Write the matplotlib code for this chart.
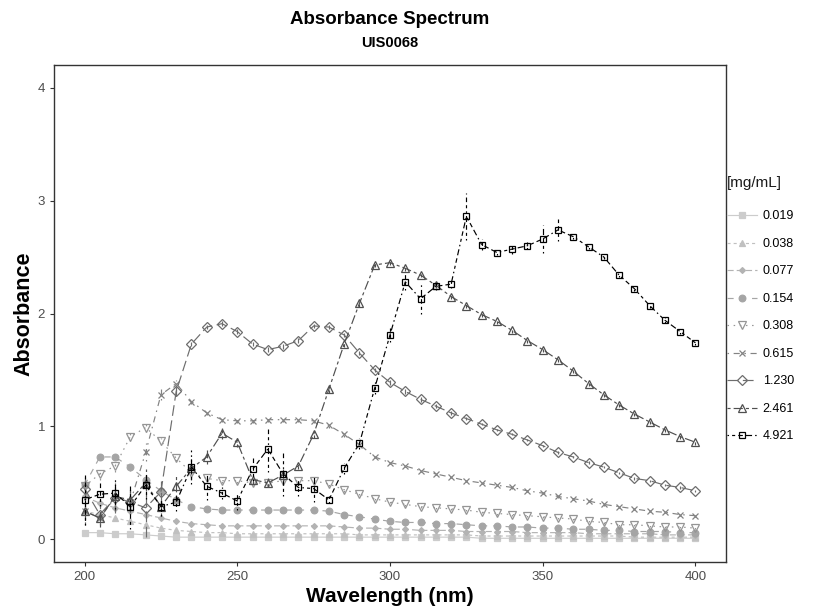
import numpy as np
import matplotlib
matplotlib.use("Agg")
import matplotlib.pyplot as plt
from matplotlib.lines import Line2D

plt.rcParams['font.family'] = ['Liberation Sans', 'DejaVu Sans']

wavelength = list(range(200, 401, 5))
conc_labels = ["0.019", "0.038", "0.077", "0.154", "0.308", "0.615", "1.230", "2.461", "4.921"]

a_0019 = [0.06, 0.06, 0.05, 0.05, 0.04, 0.03, 0.02, 0.02, 0.02, 0.02, 0.02,
          0.02, 0.02, 0.02, 0.02, 0.02, 0.02, 0.02, 0.02, 0.02, 0.02,
          0.02, 0.02, 0.02, 0.02, 0.02, 0.01, 0.01, 0.01, 0.01, 0.01,
          0.01, 0.01, 0.01, 0.01, 0.01, 0.01, 0.01, 0.01, 0.01, 0.01]
a_0038 = [0.25, 0.22, 0.19, 0.16, 0.13, 0.10, 0.08, 0.07, 0.06, 0.06, 0.05,
          0.05, 0.05, 0.05, 0.05, 0.05, 0.05, 0.05, 0.04, 0.04, 0.04,
          0.04, 0.04, 0.04, 0.04, 0.04, 0.03, 0.03, 0.03, 0.03, 0.03,
          0.03, 0.03, 0.03, 0.03, 0.03, 0.02, 0.02, 0.02, 0.02, 0.02]
a_0077 = [0.38, 0.32, 0.28, 0.25, 0.22, 0.19, 0.16, 0.14, 0.13, 0.12, 0.12,
          0.12, 0.12, 0.12, 0.12, 0.12, 0.12, 0.11, 0.10, 0.10, 0.09,
          0.09, 0.08, 0.08, 0.08, 0.07, 0.07, 0.07, 0.07, 0.06, 0.06,
          0.06, 0.06, 0.05, 0.05, 0.05, 0.05, 0.05, 0.04, 0.04, 0.04]
a_0154 = [0.48, 0.73, 0.73, 0.64, 0.53, 0.43, 0.35, 0.29, 0.27, 0.26, 0.26,
          0.26, 0.26, 0.26, 0.26, 0.26, 0.25, 0.22, 0.20, 0.18, 0.16,
          0.15, 0.15, 0.14, 0.14, 0.13, 0.12, 0.12, 0.11, 0.11, 0.10,
          0.10, 0.09, 0.09, 0.08, 0.08, 0.07, 0.07, 0.07, 0.06, 0.06]
a_0308 = [0.47, 0.58, 0.65, 0.91, 0.99, 0.87, 0.72, 0.59, 0.54, 0.52, 0.52,
          0.50, 0.50, 0.52, 0.52, 0.52, 0.49, 0.44, 0.40, 0.36, 0.33,
          0.31, 0.29, 0.28, 0.27, 0.26, 0.24, 0.23, 0.22, 0.21, 0.20,
          0.19, 0.18, 0.16, 0.15, 0.13, 0.13, 0.12, 0.11, 0.11, 0.10]
a_0615 = [0.25, 0.19, 0.37, 0.33, 0.77, 1.28, 1.38, 1.22, 1.12, 1.06, 1.05,
          1.05, 1.06, 1.06, 1.06, 1.05, 1.01, 0.93, 0.84, 0.73, 0.68,
          0.65, 0.61, 0.58, 0.55, 0.52, 0.50, 0.48, 0.46, 0.43, 0.41,
          0.38, 0.36, 0.34, 0.31, 0.29, 0.27, 0.25, 0.24, 0.22, 0.21]
a_1230 = [0.45, 0.22, 0.37, 0.33, 0.28, 0.42, 1.31, 1.73, 1.88, 1.91, 1.84,
          1.73, 1.68, 1.71, 1.76, 1.89, 1.88, 1.81, 1.65, 1.50, 1.39,
          1.31, 1.24, 1.18, 1.12, 1.07, 1.02, 0.97, 0.93, 0.88, 0.83,
          0.77, 0.73, 0.68, 0.64, 0.59, 0.54, 0.52, 0.48, 0.46, 0.43]
a_2461 = [0.25, 0.19, 0.38, 0.35, 0.50, 0.29, 0.47, 0.63, 0.73, 0.94, 0.86,
          0.53, 0.50, 0.57, 0.65, 0.93, 1.33, 1.73, 2.09, 2.43, 2.45,
          2.40, 2.34, 2.25, 2.15, 2.07, 1.99, 1.93, 1.85, 1.76, 1.68,
          1.59, 1.49, 1.38, 1.28, 1.19, 1.11, 1.04, 0.97, 0.91, 0.86]
a_4921 = [0.35, 0.40, 0.41, 0.29, 0.48, 0.29, 0.33, 0.64, 0.47, 0.41, 0.34,
          0.62, 0.80, 0.58, 0.46, 0.45, 0.35, 0.63, 0.85, 1.34, 1.81,
          2.28, 2.13, 2.24, 2.26, 2.86, 2.61, 2.54, 2.57, 2.60, 2.66,
          2.74, 2.68, 2.59, 2.50, 2.34, 2.22, 2.07, 1.94, 1.84, 1.74]

e_0019 = [0.01, 0.01, 0.01, 0.01, 0.01, 0.01, 0.01, 0.01, 0.01, 0.01, 0.01,
          0.01, 0.01, 0.01, 0.01, 0.01, 0.01, 0.01, 0.01, 0.01, 0.01,
          0.01, 0.01, 0.01, 0.01, 0.01, 0.01, 0.01, 0.01, 0.01, 0.01,
          0.01, 0.01, 0.01, 0.01, 0.01, 0.01, 0.01, 0.01, 0.01, 0.01]
e_0038 = [0.03, 0.02, 0.02, 0.02, 0.02, 0.01, 0.01, 0.01, 0.01, 0.01, 0.01,
          0.01, 0.01, 0.01, 0.01, 0.01, 0.01, 0.01, 0.01, 0.01, 0.01,
          0.01, 0.01, 0.01, 0.01, 0.01, 0.01, 0.01, 0.01, 0.01, 0.01,
          0.01, 0.01, 0.01, 0.01, 0.01, 0.01, 0.01, 0.01, 0.01, 0.01]
e_0077 = [0.04, 0.03, 0.03, 0.02, 0.02, 0.02, 0.01, 0.01, 0.01, 0.01, 0.01,
          0.01, 0.01, 0.01, 0.01, 0.01, 0.01, 0.01, 0.01, 0.01, 0.01,
          0.01, 0.01, 0.01, 0.01, 0.01, 0.01, 0.01, 0.01, 0.01, 0.01,
          0.01, 0.01, 0.01, 0.01, 0.01, 0.01, 0.01, 0.01, 0.01, 0.01]
e_0154 = [0.05, 0.03, 0.03, 0.03, 0.03, 0.02, 0.02, 0.01, 0.01, 0.01, 0.01,
          0.01, 0.01, 0.01, 0.01, 0.01, 0.01, 0.01, 0.01, 0.01, 0.01,
          0.01, 0.01, 0.01, 0.01, 0.01, 0.01, 0.01, 0.01, 0.01, 0.01,
          0.01, 0.01, 0.01, 0.01, 0.01, 0.01, 0.01, 0.01, 0.01, 0.01]
e_0308 = [0.06, 0.05, 0.05, 0.04, 0.04, 0.03, 0.03, 0.02, 0.02, 0.02, 0.02,
          0.02, 0.02, 0.02, 0.02, 0.02, 0.02, 0.02, 0.01, 0.01, 0.01,
          0.01, 0.01, 0.01, 0.01, 0.01, 0.01, 0.01, 0.01, 0.01, 0.01,
          0.01, 0.01, 0.01, 0.01, 0.01, 0.01, 0.01, 0.01, 0.01, 0.01]
e_0615 = [0.08, 0.06, 0.10, 0.08, 0.08, 0.05, 0.03, 0.02, 0.02, 0.02, 0.02,
          0.02, 0.02, 0.02, 0.02, 0.02, 0.02, 0.02, 0.02, 0.01, 0.01,
          0.01, 0.01, 0.01, 0.01, 0.01, 0.01, 0.01, 0.01, 0.01, 0.01,
          0.01, 0.01, 0.01, 0.01, 0.01, 0.01, 0.01, 0.01, 0.01, 0.01]
e_1230 = [0.10, 0.08, 0.14, 0.10, 0.26, 0.10, 0.04, 0.02, 0.02, 0.02, 0.02,
          0.02, 0.02, 0.02, 0.02, 0.02, 0.02, 0.02, 0.02, 0.02, 0.02,
          0.02, 0.02, 0.02, 0.02, 0.01, 0.01, 0.01, 0.01, 0.01, 0.01,
          0.01, 0.01, 0.01, 0.01, 0.01, 0.01, 0.01, 0.01, 0.01, 0.01]
e_2461 = [0.12, 0.08, 0.12, 0.10, 0.12, 0.08, 0.10, 0.10, 0.06, 0.05, 0.04,
          0.04, 0.04, 0.05, 0.03, 0.03, 0.03, 0.03, 0.03, 0.02, 0.02,
          0.02, 0.02, 0.02, 0.02, 0.02, 0.02, 0.02, 0.02, 0.02, 0.02,
          0.02, 0.02, 0.02, 0.02, 0.02, 0.02, 0.02, 0.02, 0.02, 0.02]
e_4921 = [0.22, 0.10, 0.14, 0.20, 0.12, 0.08, 0.08, 0.15, 0.12, 0.05, 0.08,
          0.10, 0.20, 0.20, 0.08, 0.12, 0.03, 0.05, 0.05, 0.05, 0.06,
          0.07, 0.13, 0.03, 0.03, 0.21, 0.05, 0.02, 0.04, 0.03, 0.12,
          0.10, 0.02, 0.02, 0.02, 0.02, 0.02, 0.02, 0.02, 0.02, 0.02]

series = [a_0019, a_0038, a_0077, a_0154, a_0308, a_0615, a_1230, a_2461, a_4921]
errors = [e_0019, e_0038, e_0077, e_0154, e_0308, e_0615, e_1230, e_2461, e_4921]

greys = ["#cccccc", "#c0c0c0", "#b3b3b3", "#a5a5a5", "#959595", "#838383", "#6d6d6d", "#4f4f4f", "#000000"]
markers = ["s", "^", "D", "o", "v", "x", "D", "^", "s"]
filled = [True, True, True, True, False, False, False, False, False]
msizes = [4.2, 4.8, 3.0, 4.8, 5.4, 5.0, 4.6, 5.4, 4.6]
dash_units = [None, (2, 2), (4, 2), (4, 4), (1, 3), (1, 3, 4, 3), (7, 3), (2, 2, 6, 2),
              (1, 2, 2, 2, 3, 2, 4, 2)]
lw = 0.85
scale = 1.3

fig = plt.figure(figsize=(8.26, 6.13), dpi=100)
ax = fig.add_axes([54/826, 1-562/613, (726-54)/826, (562-65)/613])

handles = []
for i, (y, e) in enumerate(zip(series, errors)):
    c = greys[i]
    if dash_units[i] is None:
        ls = '-'
    else:
        ls = (0, tuple(d * scale for d in dash_units[i]))
    eb = ax.errorbar(wavelength, y, yerr=e, fmt='none', ecolor=c, elinewidth=lw, capsize=0)
    eb[2][0].set_linestyle(ls)
    mfc = c if filled[i] else 'none'
    ax.plot(wavelength, y, color=c, lw=lw, linestyle=ls, marker=markers[i],
            markersize=msizes[i], mfc=mfc, mec=c, mew=0.9)
    handles.append(Line2D([0], [0], color=c, lw=lw, linestyle=ls, marker=markers[i],
                          markersize=msizes[i], mfc=mfc, mec=c, mew=0.9))

ax.set_xlim(190, 410)
ax.set_ylim(-0.2, 4.2)
ax.set_xticks([200, 250, 300, 350, 400])
ax.set_yticks([0, 1, 2, 3, 4])
ax.tick_params(axis='both', labelsize=9.5, colors='#333333', labelcolor='#4d4d4d',
               length=3, width=0.8, direction='out')
for sp in ax.spines.values():
    sp.set_color('#333333')
    sp.set_linewidth(1.0)

ax.set_xlabel("Wavelength (nm)", fontsize=15, fontweight='bold', labelpad=3)
ax.set_ylabel("Absorbance", fontsize=15.5, fontweight='bold', labelpad=2)

fig.text(390/826, 1-20/613, "Absorbance Spectrum", ha='center', va='center',
         fontsize=13.5, fontweight='bold')
fig.text(390/826, 1-43/613, "UIS0068", ha='center', va='center',
         fontsize=10.5, fontweight='bold')

fig.text(727/826, 1-183/613, "[mg/mL]", ha='left', va='center', fontsize=11, color='#1a1a1a')
leg = fig.legend(handles, conc_labels, loc='upper left',
                 bbox_to_anchor=(722/826, 1-205.5/613), frameon=False, fontsize=9,
                 handlelength=2.4, handletextpad=0.45,
                 labelspacing=1.24, borderaxespad=0)

fig.savefig("out.png", dpi=100)
